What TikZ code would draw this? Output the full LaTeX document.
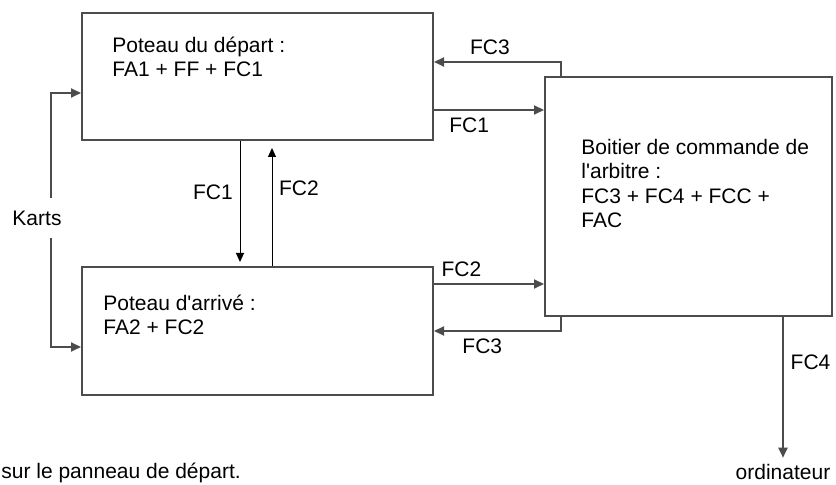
\documentclass[tikz,border=0pt]{standalone}
\usepackage{fontspec}
\setmainfont{Liberation Sans}[Ligatures=TeXOff]
\usepackage{tikz}
\usetikzlibrary{arrows.meta, positioning}

\begin{document}
\begin{tikzpicture}[
    x=0.5pt, y=-0.5pt,
    every node/.style={font=\fontsize{10.5}{12.25}\selectfont},
    block/.style={rectangle, draw=black!70, line width=1pt, inner sep=0pt},
    blocktext/.style={align=left, inner sep=0pt, anchor=base west},
    arrow/.style={-{Triangle[length=5pt, width=4.5pt]}, line width=1pt, draw=black!70},
    thinarrow/.style={-{Triangle[length=4.5pt, width=4pt]}, line width=0.5pt, draw=black}
]
    \useasboundingbox (0,0) rectangle (836,485);

    % Blocks
    \node[block, minimum width=175.5pt, minimum height=63.5pt] (depart) at (257.5,76.5) {};
    \node[block, minimum width=175.5pt, minimum height=64pt] (arrive) at (257.5,331) {};
    \node[block, minimum width=143.5pt, minimum height=119.5pt] (boitier) at (688.5,196.5) {};

    % Block texts (anchored on the last line)
    \node[blocktext] (departtxt) at (112,77) {Poteau du départ :\\FA1 + FF + FC1};
    \node[blocktext] (arrivetxt) at (103,335) {Poteau d'arrivé :\\FA2 + FC2};
    \node[blocktext] (boitiertxt) at (581,228) {Boitier de commande de\\l'arbitre :\\FC3 + FC4 + FCC +\\FAC};

    % Outside nodes
    \node[inner sep=6pt] (karts) at (37,218) {Karts};
    \node[anchor=base] (ordi) at (783,480) {ordinateur};
    \node[anchor=base west, inner sep=0pt] (note) at (1,479) {sur le panneau de départ.};

    % Helper coordinates
    \coordinate (fcA) at ([yshift=-16.75pt]depart.east);
    \coordinate (fcB) at ([yshift=23.5pt]arrive.east);

    % Connections
    \draw[arrow] ([xshift=8.5pt]boitier.north west) |- node[pos=0.78, above] {FC3} ([yshift=7.25pt]depart.east);
    \draw[arrow] (fcA) -- node[pos=0.32, below] {FC1} (fcA -| boitier.west);
    \draw[arrow] (fcB) -- node[pos=0.25, above] {FC2} (fcB -| boitier.west);
    \draw[arrow] ([xshift=8.5pt]boitier.south west) |- node[pos=0.81, below] {FC3} (arrive.east);
    \draw[thinarrow, shorten >=2pt] ([xshift=-8.75pt]depart.south) -- node[pos=0.41, left] {FC1} ([xshift=-8.75pt]arrive.north);
    \draw[thinarrow, shorten >=3.5pt] ([xshift=7.25pt]arrive.north) -- node[pos=0.62, right] {FC2} ([xshift=7.25pt]depart.south);
    \draw[arrow] ([xshift=47.25pt]boitier.south) -- node[pos=0.32, right] {FC4} (ordi.north);
    \draw[arrow] ([xshift=7pt]karts.north) |- ([yshift=-8.25pt]depart.west);
    \draw[arrow] ([xshift=7pt]karts.south) |- ([yshift=-8pt]arrive.west);
\end{tikzpicture}
\end{document}
